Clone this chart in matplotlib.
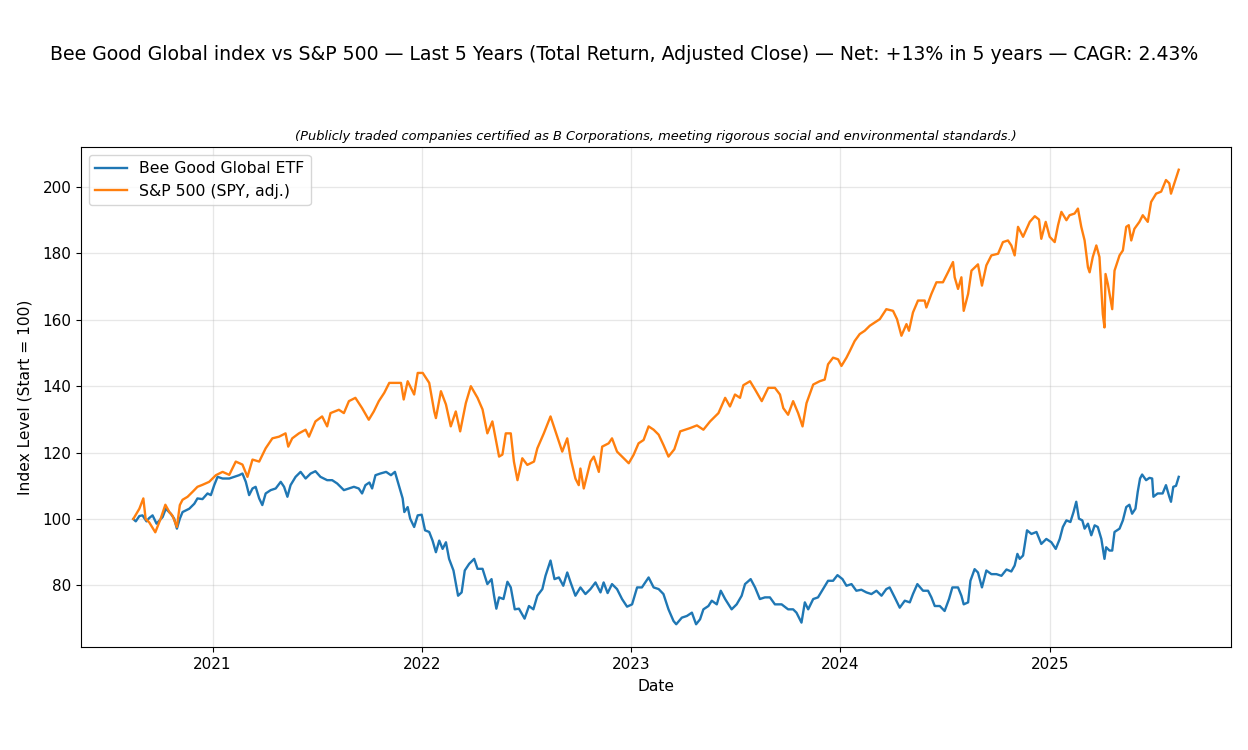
import matplotlib
matplotlib.use("Agg")
import matplotlib.pyplot as plt
import numpy as np
import pandas as pd

# Decimal-year dates and index levels
bee_dates = [2020.622, 2020.634, 2020.651, 2020.666, 2020.685, 2020.698, 2020.714, 2020.733, 2020.762, 2020.777,
             2020.801, 2020.817, 2020.830, 2020.844, 2020.857, 2020.889, 2020.913, 2020.928, 2020.952, 2020.976,
             2020.992, 2021.008, 2021.024, 2021.048, 2021.080, 2021.103, 2021.127, 2021.143, 2021.159, 2021.175,
             2021.191, 2021.206, 2021.223, 2021.238, 2021.254, 2021.278, 2021.302, 2021.326, 2021.342, 2021.358,
             2021.373, 2021.397, 2021.421, 2021.445, 2021.469, 2021.492, 2021.516, 2021.548, 2021.572, 2021.596,
             2021.628, 2021.652, 2021.676, 2021.699, 2021.715, 2021.731, 2021.750, 2021.763, 2021.779, 2021.802,
             2021.830, 2021.853, 2021.872, 2021.893, 2021.909, 2021.917, 2021.933, 2021.945, 2021.964, 2021.981,
             2022.000, 2022.016, 2022.036, 2022.052, 2022.068, 2022.084, 2022.100, 2022.116, 2022.131, 2022.152,
             2022.174, 2022.191, 2022.206, 2022.227, 2022.251, 2022.267, 2022.291, 2022.314, 2022.334, 2022.346,
             2022.357, 2022.370, 2022.391, 2022.410, 2022.426, 2022.445, 2022.465, 2022.492, 2022.513, 2022.534,
             2022.553, 2022.577, 2022.592, 2022.616, 2022.635, 2022.656, 2022.677, 2022.696, 2022.712, 2022.735,
             2022.759, 2022.783, 2022.807, 2022.831, 2022.855, 2022.870, 2022.889, 2022.910, 2022.934, 2022.958,
             2022.982, 2023.006, 2023.030, 2023.053, 2023.085, 2023.109, 2023.133, 2023.156, 2023.180, 2023.204,
             2023.217, 2023.244, 2023.268, 2023.292, 2023.312, 2023.331, 2023.347, 2023.371, 2023.387, 2023.411,
             2023.430, 2023.451, 2023.482, 2023.506, 2023.530, 2023.546, 2023.573, 2023.594, 2023.617, 2023.641,
             2023.665, 2023.689, 2023.721, 2023.752, 2023.776, 2023.792, 2023.816, 2023.832, 2023.848, 2023.872,
             2023.895, 2023.919, 2023.943, 2023.967, 2023.988, 2024.012, 2024.031, 2024.055, 2024.078, 2024.102,
             2024.126, 2024.150, 2024.174, 2024.198, 2024.221, 2024.237, 2024.261, 2024.285, 2024.309, 2024.333,
             2024.348, 2024.369, 2024.396, 2024.420, 2024.436, 2024.452, 2024.476, 2024.499, 2024.520, 2024.536,
             2024.563, 2024.579, 2024.590, 2024.611, 2024.622, 2024.642, 2024.658, 2024.677, 2024.698, 2024.722,
             2024.746, 2024.770, 2024.794, 2024.817, 2024.833, 2024.846, 2024.857, 2024.873, 2024.892, 2024.913,
             2024.937, 2024.960, 2024.984, 2025.008, 2025.029, 2025.048, 2025.063, 2025.080, 2025.099, 2025.114,
             2025.127, 2025.140, 2025.156, 2025.167, 2025.183, 2025.199, 2025.215, 2025.230, 2025.247, 2025.262,
             2025.270, 2025.286, 2025.299, 2025.310, 2025.334, 2025.350, 2025.366, 2025.381, 2025.394, 2025.410,
             2025.421, 2025.432, 2025.442, 2025.461, 2025.477, 2025.490, 2025.496, 2025.516, 2025.540, 2025.556,
             2025.572, 2025.580, 2025.591, 2025.604, 2025.617]
bee_values = [100.0, 99.3, 100.9, 101.1, 99.3, 100.3, 101.1, 98.6, 100.6, 103.1,
              101.6, 100.1, 97.1, 100.1, 102.1, 103.1, 104.6, 106.2, 106.0, 107.7,
              107.2, 110.2, 112.7, 112.2, 112.2, 112.7, 113.2, 113.7, 111.2, 107.2,
              109.2, 109.7, 106.2, 104.2, 107.7, 108.7, 109.2, 111.2, 109.7, 106.7,
              110.2, 112.7, 114.2, 112.2, 113.7, 114.4, 112.7, 111.7, 111.7, 110.7,
              108.7, 109.2, 109.7, 109.2, 107.7, 110.2, 111.0, 109.2, 113.2, 113.7,
              114.2, 113.2, 114.2, 109.7, 106.2, 102.1, 103.6, 100.1, 97.6, 101.1,
              101.3, 96.6, 96.1, 93.5, 90.0, 93.5, 91.0, 93.0, 88.0, 84.5,
              76.9, 77.9, 84.5, 86.5, 88.0, 85.0, 85.0, 80.4, 81.9, 76.9,
              73.0, 76.4, 75.9, 81.1, 79.4, 72.8, 73.0, 70.0, 73.8, 72.8,
              76.9, 78.9, 82.9, 87.5, 81.9, 82.4, 79.9, 83.9, 80.9, 76.9,
              79.4, 77.4, 78.9, 80.9, 77.9, 80.9, 77.7, 80.4, 78.9, 75.9,
              73.6, 74.3, 79.4, 79.4, 82.4, 79.4, 78.9, 77.4, 72.8, 69.3,
              68.3, 70.3, 70.8, 71.8, 68.3, 69.8, 72.8, 73.8, 75.4, 74.3,
              78.4, 75.9, 72.8, 74.3, 76.9, 80.4, 81.9, 79.4, 75.9, 76.4,
              76.4, 74.3, 74.3, 72.8, 72.8, 71.8, 68.8, 74.9, 72.8, 75.9,
              76.4, 78.9, 81.4, 81.4, 83.1, 81.9, 79.9, 80.4, 78.4, 78.7,
              77.9, 77.4, 78.4, 76.9, 78.9, 79.4, 76.4, 73.3, 75.4, 74.9,
              77.4, 80.4, 78.4, 78.4, 76.4, 73.8, 73.8, 72.3, 75.9, 79.4,
              79.4, 76.9, 74.3, 74.9, 81.4, 84.9, 83.9, 79.4, 84.5, 83.4,
              83.4, 82.9, 84.8, 84.2, 86.0, 89.5, 88.0, 89.0, 96.6, 95.5,
              96.1, 92.5, 94.0, 93.0, 91.0, 94.0, 97.6, 99.6, 99.1, 102.1,
              105.2, 100.1, 99.6, 97.1, 98.6, 95.1, 98.1, 97.6, 94.0, 88.0,
              91.5, 90.5, 90.5, 96.1, 97.1, 99.6, 103.6, 104.3, 101.6, 103.1,
              108.2, 112.2, 113.4, 111.7, 112.4, 112.2, 106.7, 107.7, 107.7, 110.2,
              106.7, 105.2, 109.7, 110.0, 112.7]

spy_dates = [2020.622, 2020.651, 2020.670, 2020.681, 2020.698, 2020.727, 2020.752, 2020.775, 2020.795, 2020.809,
             2020.830, 2020.844, 2020.857, 2020.881, 2020.905, 2020.928, 2020.952, 2020.984, 2021.016, 2021.048,
             2021.080, 2021.111, 2021.143, 2021.167, 2021.191, 2021.223, 2021.254, 2021.286, 2021.318, 2021.349,
             2021.362, 2021.381, 2021.413, 2021.445, 2021.461, 2021.492, 2021.524, 2021.548, 2021.564, 2021.604,
             2021.628, 2021.652, 2021.683, 2021.715, 2021.747, 2021.771, 2021.795, 2021.821, 2021.845, 2021.877,
             2021.901, 2021.914, 2021.933, 2021.964, 2021.981, 2022.005, 2022.036, 2022.060, 2022.068, 2022.092,
             2022.116, 2022.139, 2022.163, 2022.184, 2022.211, 2022.235, 2022.267, 2022.291, 2022.314, 2022.338,
             2022.370, 2022.386, 2022.402, 2022.426, 2022.441, 2022.458, 2022.481, 2022.505, 2022.537, 2022.553,
             2022.584, 2022.616, 2022.640, 2022.672, 2022.696, 2022.712, 2022.735, 2022.751, 2022.759, 2022.775,
             2022.807, 2022.823, 2022.847, 2022.863, 2022.894, 2022.910, 2022.934, 2022.966, 2022.990, 2023.013,
             2023.037, 2023.061, 2023.085, 2023.109, 2023.133, 2023.156, 2023.180, 2023.208, 2023.236, 2023.284,
             2023.316, 2023.347, 2023.379, 2023.419, 2023.451, 2023.474, 2023.498, 2023.522, 2023.538, 2023.570,
             2023.594, 2023.626, 2023.657, 2023.689, 2023.713, 2023.729, 2023.752, 2023.776, 2023.800, 2023.821,
             2023.840, 2023.872, 2023.903, 2023.927, 2023.943, 2023.967, 2023.991, 2024.007, 2024.031, 2024.047,
             2024.070, 2024.094, 2024.118, 2024.142, 2024.166, 2024.190, 2024.221, 2024.253, 2024.272, 2024.293,
             2024.317, 2024.329, 2024.348, 2024.372, 2024.404, 2024.412, 2024.436, 2024.460, 2024.491, 2024.515,
             2024.539, 2024.547, 2024.563, 2024.579, 2024.590, 2024.611, 2024.627, 2024.658, 2024.677, 2024.698,
             2024.722, 2024.754, 2024.777, 2024.801, 2024.817, 2024.833, 2024.849, 2024.873, 2024.905, 2024.929,
             2024.949, 2024.960, 2024.981, 2025.000, 2025.024, 2025.040, 2025.056, 2025.080, 2025.095, 2025.119,
             2025.135, 2025.151, 2025.167, 2025.183, 2025.191, 2025.206, 2025.223, 2025.238, 2025.254, 2025.262,
             2025.267, 2025.278, 2025.299, 2025.310, 2025.334, 2025.350, 2025.366, 2025.378, 2025.390, 2025.405,
             2025.429, 2025.445, 2025.469, 2025.485, 2025.509, 2025.533, 2025.556, 2025.572, 2025.580, 2025.596,
             2025.604, 2025.617]
spy_values = [100.0, 103.1, 106.2, 100.0, 99.0, 96.0, 100.0, 104.3, 102.0, 101.0,
              97.6, 104.2, 105.8, 106.7, 108.2, 109.7, 110.3, 111.2, 113.2, 114.2,
              113.3, 117.3, 116.4, 112.7, 117.9, 117.3, 121.3, 124.3, 124.8, 125.8,
              121.8, 124.3, 125.8, 126.9, 124.8, 129.4, 130.9, 127.9, 131.9, 132.9,
              131.9, 135.5, 136.5, 133.4, 129.9, 132.4, 135.5, 138.0, 141.0, 141.0,
              141.0, 136.0, 141.5, 137.5, 144.0, 144.0, 141.0, 132.4, 130.4, 138.5,
              134.5, 127.9, 132.4, 126.4, 134.9, 140.0, 136.5, 133.0, 125.8, 129.4,
              118.8, 119.4, 125.8, 125.8, 117.3, 111.7, 118.3, 116.3, 117.3, 121.3,
              125.8, 130.9, 126.4, 120.3, 124.3, 118.3, 112.2, 110.2, 115.2, 109.2,
              117.3, 118.8, 114.2, 121.8, 122.8, 124.3, 120.3, 118.3, 116.8, 119.3,
              122.8, 123.8, 127.9, 126.9, 125.4, 122.3, 118.8, 121.0, 126.4, 127.4,
              128.2, 126.9, 129.4, 131.9, 136.5, 133.9, 137.5, 136.5, 140.3, 141.5,
              139.0, 135.5, 139.5, 139.5, 137.5, 133.4, 131.4, 135.5, 131.9, 127.9,
              134.9, 140.5, 141.5, 142.0, 146.6, 148.6, 148.1, 146.1, 148.6, 150.6,
              153.6, 155.7, 156.7, 158.2, 159.2, 160.2, 163.2, 162.7, 160.2, 155.2,
              158.7, 156.7, 162.2, 165.8, 165.8, 163.7, 167.8, 171.3, 171.3, 174.3,
              177.4, 172.8, 169.3, 172.8, 162.7, 167.8, 174.8, 176.7, 170.3, 176.4,
              179.4, 179.9, 183.4, 183.9, 182.4, 179.4, 188.0, 185.0, 189.5, 191.2,
              190.2, 184.4, 189.5, 185.0, 183.4, 188.5, 192.5, 190.0, 191.5, 192.0,
              193.5, 188.0, 183.9, 175.8, 174.3, 178.9, 182.4, 178.9, 161.7, 157.7,
              173.8, 170.8, 163.2, 174.8, 179.4, 180.9, 188.0, 188.5, 183.9, 187.4,
              189.5, 191.5, 189.5, 195.5, 198.0, 198.6, 202.1, 201.1, 198.0, 201.1,
              202.6, 205.2]

series_names = ["Bee Good Global ETF", "S&P 500 (SPY, adj.)"]
title_text = ("Bee Good Global index vs S&P 500 \u2014 Last 5 Years (Total Return, Adjusted Close) "
              "\u2014 Net: +13% in 5 years \u2014 CAGR: 2.43%")
subtitle_text = ("(Publicly traded companies certified as B Corporations, meeting rigorous social "
                 "and environmental standards.)")


def to_datetime(dec_years):
    out = []
    for d in dec_years:
        y = int(np.floor(d))
        start = pd.Timestamp(year=y, month=1, day=1)
        end = pd.Timestamp(year=y + 1, month=1, day=1)
        out.append(start + (end - start) * (d - y))
    return pd.to_datetime(out)


fig = plt.figure(figsize=(12.48, 7.5), dpi=100)
ax = fig.add_axes([81 / 1248, 1 - 647 / 750, (1231 - 81) / 1248, (647 - 147) / 750])

ax.plot(to_datetime(bee_dates), bee_values, color="#1f77b4", lw=1.7, label=series_names[0])
ax.plot(to_datetime(spy_dates), spy_values, color="#ff7f0e", lw=1.7, label=series_names[1])

ax.grid(True, color="#b0b0b0", alpha=0.3, lw=0.9)
ax.set_xlabel("Date", fontsize=11.2, labelpad=5)
ax.set_ylabel("Index Level (Start = 100)", fontsize=11.2, labelpad=7)
ax.tick_params(labelsize=11)
ax.set_title(subtitle_text, fontsize=9.4, style="italic", pad=5)
fig.suptitle(title_text, fontsize=13.6, y=1 - 55 / 750, va="center")
ax.legend(loc="upper left", fontsize=11.3)

fig.savefig("out.png", dpi=100)
